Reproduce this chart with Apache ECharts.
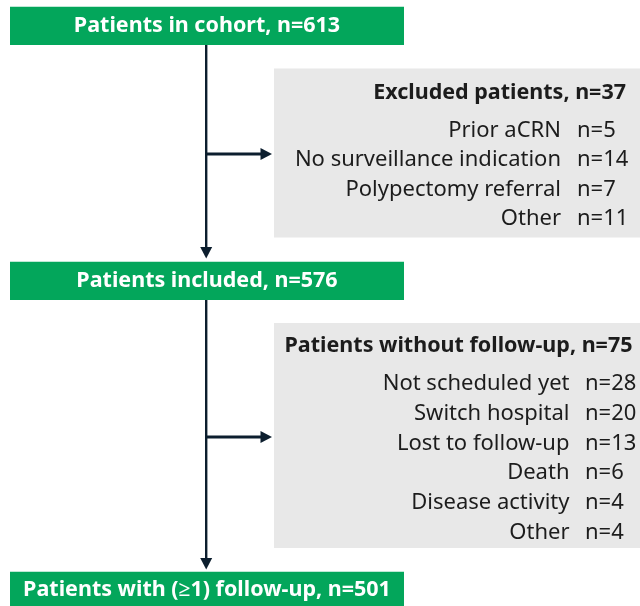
<!DOCTYPE html>
<html><head><meta charset="utf-8">
<script src="https://cdn.jsdelivr.net/npm/echarts@6/dist/echarts.min.js"></script>
<style>html,body{margin:0;padding:0;background:#fff}#c{width:640px;height:606px}</style>
</head><body><div id="c"></div>
<script>
const mainBoxes = ["Patients in cohort, n=613", "Patients included, n=576", "Patients with (\u22651) follow-up, n=501"];
const excludedTitle = "Excluded patients, n=37";
const excludedNames = ["Prior aCRN", "No surveillance indication", "Polypectomy referral", "Other"];
const excludedCounts = [5, 14, 7, 11];
const noFollowTitle = "Patients without follow-up, n=75";
const noFollowNames = ["Not scheduled yet", "Switch hospital", "Lost to follow-up", "Death", "Disease activity", "Other"];
const noFollowCounts = [28, 20, 13, 6, 4, 4];

const FONT = '"Noto Sans"';
const GREEN = '#03a65b', GRAY = '#e8e8e8', INK = '#0c1e2e', TXT = '#1c1c1c';
const chart = echarts.init(document.getElementById('c'), null, {renderer:'canvas'});
const g = [];
const boxY = [[6.7,45],[261.7,300],[571.7,610]];
mainBoxes.forEach((t,i)=>{
  g.push({type:'rect', shape:{x:10,y:boxY[i][0],width:394,height:boxY[i][1]-boxY[i][0]}, style:{fill:GREEN}});
  const cy = i===2 ? 590 : (boxY[i][0]+boxY[i][1])/2;
  g.push({type:'text', x:207, y:cy, style:{text:t, fill:'#fff', font:'bold 21.5px '+FONT, align:'center', verticalAlign:'middle'}});
});
const lx = 206.2;
function vArrow(y0,y1){
  g.push({type:'line', shape:{x1:lx,y1:y0,x2:lx,y2:y1-9}, style:{stroke:INK, lineWidth:2.4}});
  g.push({type:'polygon', shape:{points:[[lx-6,y1-11.5],[lx+6,y1-11.5],[lx,y1]]}, style:{fill:INK}});
}
function hArrow(y,x1){
  g.push({type:'line', shape:{x1:lx,y1:y,x2:x1-9,y2:y}, style:{stroke:INK, lineWidth:2.8}});
  g.push({type:'polygon', shape:{points:[[x1-11.5,y-6],[x1-11.5,y+6],[x1,y]]}, style:{fill:INK}});
}
vArrow(45,258.5); vArrow(300,569.5);
hArrow(154,272); hArrow(437,272);

function panel(y0,y1,title,titleY,titleX,names,counts,rowY0,step,nameX,countX){
  g.push({type:'rect', shape:{x:274,y:y0,width:366,height:y1-y0}, style:{fill:GRAY}});
  g.push({type:'text', x:titleX, y:titleY, style:{text:title, fill:TXT, font:'bold 21.5px '+FONT, align:'right', verticalAlign:'middle'}});
  names.forEach((n,i)=>{
    const y = rowY0+i*step;
    g.push({type:'text', x:nameX, y:y, style:{text:n, fill:TXT, font:'22px '+FONT, align:'right', verticalAlign:'middle'}});
    g.push({type:'text', x:countX, y:y, style:{text:'n='+counts[i], fill:TXT, font:'22px '+FONT, align:'left', verticalAlign:'middle'}});
  });
}
panel(68.5,237.5,excludedTitle,93,626,excludedNames,excludedCounts,130.5,29.5,561,577);
panel(323,548,noFollowTitle,346,632.5,noFollowNames,noFollowCounts,383.5,29.9,569.5,585);

chart.setOption({animation:false, graphic:g});
</script></body></html>
